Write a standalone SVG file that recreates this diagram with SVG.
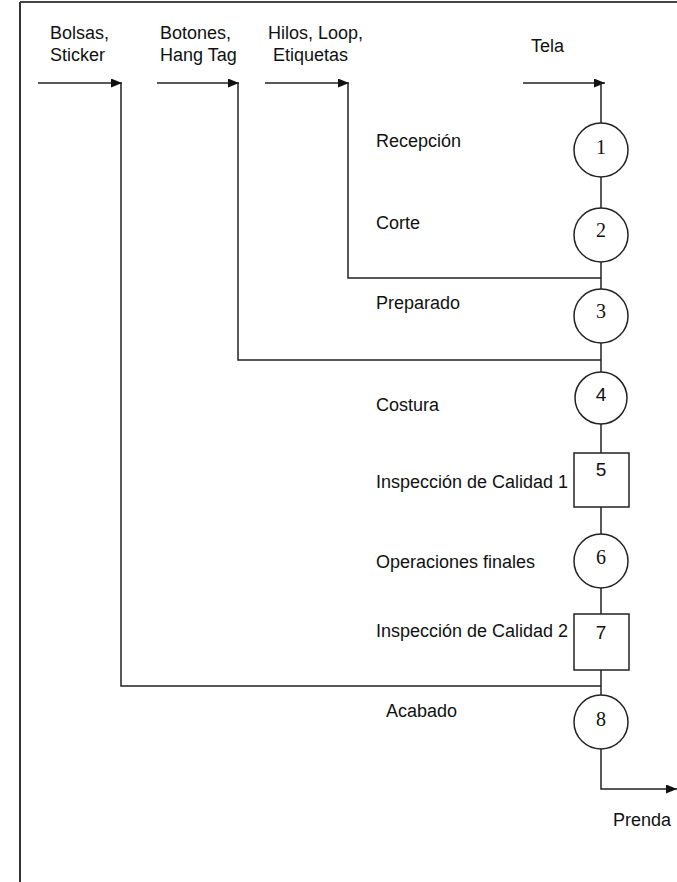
<svg xmlns="http://www.w3.org/2000/svg" width="677" height="882" viewBox="0 0 677 882">
<style>
.t{font-family:"Liberation Sans",Arial,sans-serif;font-size:18px;fill:#111}
.ns{font-family:"Liberation Serif","Times New Roman",serif;font-size:20px;fill:#111;text-anchor:middle}
.nn{font-family:"Liberation Sans",Arial,sans-serif;font-size:19px;fill:#111;text-anchor:middle}
.ln{fill:none;stroke:#222;stroke-width:1.5}
.nd{fill:#fff;stroke:#222;stroke-width:1.5}
</style>
<defs>
<marker id="ah" markerWidth="11" markerHeight="9" refX="11" refY="4.5" orient="auto" markerUnits="userSpaceOnUse">
<path d="M0,0 L11,4.5 L0,9 Z" fill="#111"/>
</marker>
</defs>
<rect width="677" height="882" fill="#fff"/>
<g id="frame">
<line x1="20" y1="2" x2="677" y2="2" stroke="#444" stroke-width="2"/>
<line x1="20" y1="2" x2="20" y2="882" stroke="#333" stroke-width="2"/>
</g>
<g id="connectors">
<path class="ln" d="M38,83 H122" marker-end="url(#ah)"/>
<path class="ln" d="M157,83 H239" marker-end="url(#ah)"/>
<path class="ln" d="M265,83 H349" marker-end="url(#ah)"/>
<path class="ln" d="M523,83 H605" marker-end="url(#ah)"/>
<path class="ln" d="M121,83 V686 H601"/>
<path class="ln" d="M238,83 V360 H601"/>
<path class="ln" d="M348,83 V278 H601"/>
<path class="ln" d="M601,83 V750"/>
<path class="ln" d="M601,750 V789 H677" marker-end="url(#ah)"/>
</g>
<g id="labels">
<text class="t" x="50" y="39">Bolsas,</text>
<text class="t" x="50" y="61">Sticker</text>
<text class="t" x="160" y="39">Botones,</text>
<text class="t" x="160" y="61">Hang Tag</text>
<text class="t" x="268" y="39">Hilos, Loop,</text>
<text class="t" x="273" y="61">Etiquetas</text>
<text class="t" x="531" y="52">Tela</text>
<text class="t" x="613" y="826">Prenda</text>
</g>
<g id="n1"><circle class="nd" cx="601" cy="150" r="27"/><text class="ns" x="601" y="154">1</text><text class="t" x="376" y="147">Recepción</text></g>
<g id="n2"><circle class="nd" cx="601" cy="235" r="27"/><text class="ns" x="601" y="237">2</text><text class="t" x="376" y="229">Corte</text></g>
<g id="n3"><circle class="nd" cx="601" cy="316" r="27"/><text class="ns" x="601" y="318">3</text><text class="t" x="376" y="309">Preparado</text></g>
<g id="n4"><circle class="nd" cx="601" cy="398" r="26"/><text class="nn" x="601" y="401">4</text><text class="t" x="376" y="411">Costura</text></g>
<g id="n5"><rect class="nd" x="574" y="453" width="55" height="54"/><text class="nn" x="601" y="476">5</text><text class="t" x="376" y="488">Inspección de Calidad 1</text></g>
<g id="n6"><circle class="nd" cx="601" cy="561" r="27"/><text class="ns" x="601" y="564">6</text><text class="t" x="376" y="568">Operaciones finales</text></g>
<g id="n7"><rect class="nd" x="574" y="614" width="55" height="56"/><text class="nn" x="601" y="639">7</text><text class="t" x="376" y="637">Inspección de Calidad 2</text></g>
<g id="n8"><circle class="nd" cx="601" cy="722" r="27"/><text class="ns" x="601" y="726">8</text><text class="t" x="386" y="717">Acabado</text></g>
</svg>
